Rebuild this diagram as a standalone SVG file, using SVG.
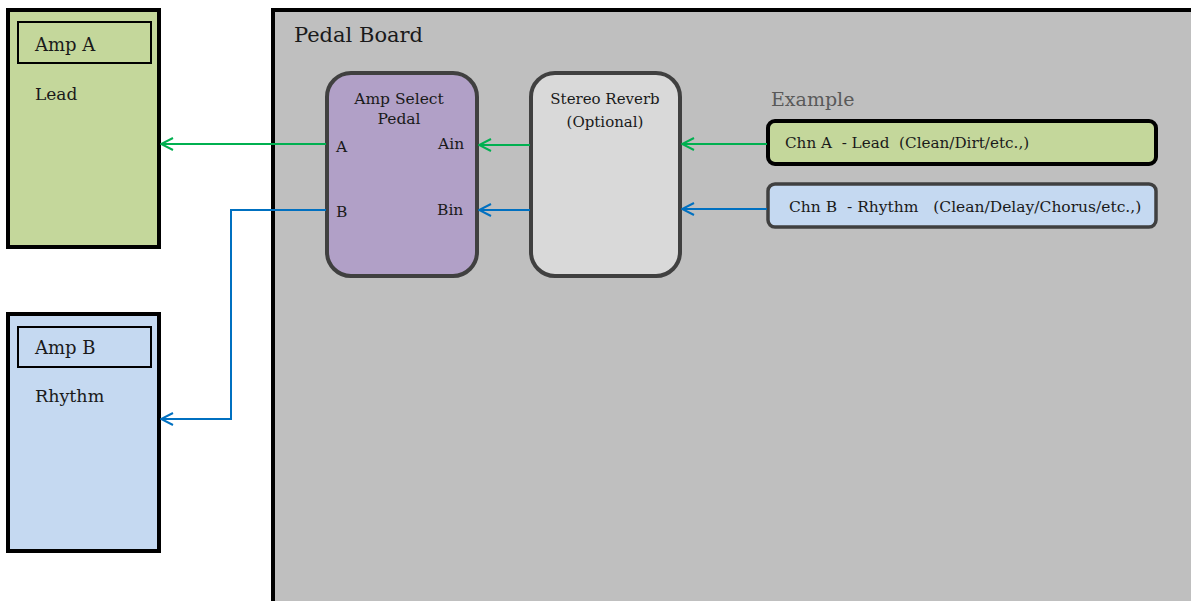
<svg xmlns="http://www.w3.org/2000/svg" width="1191" height="601" viewBox="0 0 1191 601">
<style>
text{font-family:"DejaVu Serif","Liberation Serif",serif;fill:#1a1a1a}
.amp{stroke:#000;stroke-width:4}
.lbl{fill:none;stroke:#000;stroke-width:2}
.pedal{stroke:#404040;stroke-width:4}
.g{stroke:#00b050;stroke-width:2;fill:none}
.b{stroke:#0070c0;stroke-width:2;fill:none}
</style>
<defs>
<marker id="ag" viewBox="0 0 14 14" refX="13" refY="7" markerWidth="14" markerHeight="14" markerUnits="userSpaceOnUse" orient="auto"><path d="M1,1 L13,7 L1,13" fill="none" stroke="#00b050" stroke-width="2"/></marker>
<marker id="ab" viewBox="0 0 14 14" refX="13" refY="7" markerWidth="14" markerHeight="14" markerUnits="userSpaceOnUse" orient="auto"><path d="M1,1 L13,7 L1,13" fill="none" stroke="#0070c0" stroke-width="2"/></marker>
</defs>
<g id="pedal-board">
<rect x="273" y="10" width="930" height="600" fill="#bfbfbf" class="amp"/>
<text x="294" y="42" font-size="21">Pedal Board</text>
</g>
<g id="amp-a">
<rect x="8" y="10" width="151" height="237" fill="#c4d79b" class="amp"/>
<rect x="18" y="22" width="133" height="41" class="lbl"/>
<text x="35" y="51" font-size="18">Amp A</text>
<text x="35" y="100" font-size="17">Lead</text>
</g>
<g id="amp-b">
<rect x="8" y="314" width="151" height="237" fill="#c5d9f1" class="amp"/>
<rect x="18" y="327" width="133" height="40" class="lbl"/>
<text x="35" y="354" font-size="18">Amp B</text>
<text x="35" y="402" font-size="17.5">Rhythm</text>
</g>
<g id="amp-select">
<rect x="327" y="73" width="150" height="203" rx="24" fill="#b1a0c7" class="pedal"/>
<text x="399" y="104" font-size="15.5" text-anchor="middle">Amp Select</text>
<text x="399" y="124" font-size="15.5" text-anchor="middle">Pedal</text>
<text x="336" y="152" font-size="15.5">A</text>
<text x="438" y="149" font-size="15.5">Ain</text>
<text x="336" y="217" font-size="15.5">B</text>
<text x="437" y="215" font-size="15.5">Bin</text>
</g>
<g id="stereo-reverb">
<rect x="531" y="73" width="149" height="203" rx="24" fill="#d9d9d9" class="pedal"/>
<text x="605" y="104" font-size="15" text-anchor="middle">Stereo Reverb</text>
<text x="605" y="127" font-size="15" text-anchor="middle">(Optional)</text>
</g>
<g id="example">
<text x="771" y="106" font-size="19" style="fill:#595959">Example</text>
</g>
<g id="chn-a">
<rect x="768" y="121" width="388" height="43" rx="7" fill="#c4d79b" stroke="#000" stroke-width="4"/>
<text x="785" y="148" font-size="15.2" xml:space="preserve">Chn A  - Lead  (Clean/Dirt/etc.,)</text>
</g>
<g id="chn-b">
<rect x="768" y="184" width="388" height="43" rx="7" fill="#c5d9f1" stroke="#404040" stroke-width="3.5"/>
<text x="789" y="212" font-size="15.5" xml:space="preserve">Chn B  - Rhythm   (Clean/Delay/Chorus/etc.,)</text>
</g>
<g id="connectors">
<path class="g" d="M767,144 L682,144" marker-end="url(#ag)"/>
<path class="g" d="M530,145 L479,145" marker-end="url(#ag)"/>
<path class="g" d="M326,144 L161,144" marker-end="url(#ag)"/>
<path class="b" d="M767,209 L682,209" marker-end="url(#ab)"/>
<path class="b" d="M530,210 L479,210" marker-end="url(#ab)"/>
<path class="b" d="M326,210 L231,210 L231,419 L161,419" marker-end="url(#ab)"/>
</g>
</svg>
